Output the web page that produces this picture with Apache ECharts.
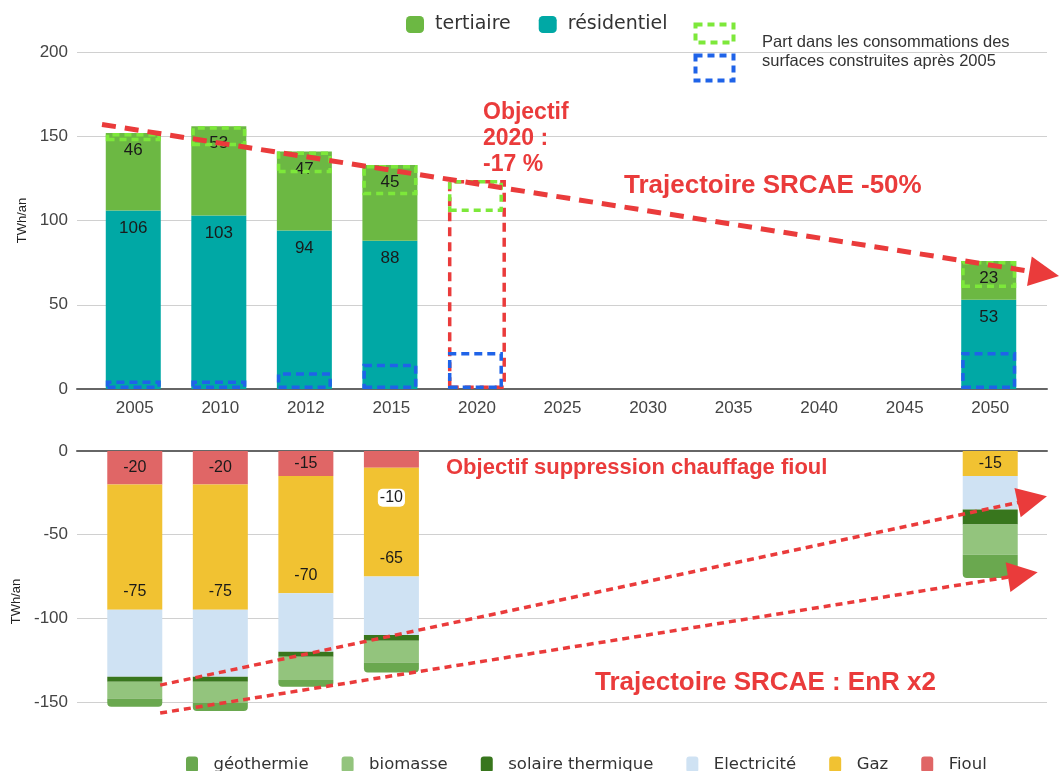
<!DOCTYPE html>
<html>
<head>
<meta charset="utf-8">
<script src="https://cdn.jsdelivr.net/npm/echarts@6/dist/echarts.min.js"></script>
<style>
  html, body { margin: 0; padding: 0; background: #fff; }
  #chart { width: 1059px; height: 771px; }
</style>
</head>
<body>
<div id="chart"></div>
<script>
// categories
const annees = ['2005', '2010', '2012', '2015', '2020', '2025', '2030', '2035', '2040', '2045', '2050'];

// consommation (TWh/an)
const residentiel = [106, 103, 94, 88, null, null, null, null, null, null, 53];
const tertiaire = [46, 53, 47, 45, null, null, null, null, null, null, 23];
const objectif2020 = [null, null, null, null, 124, null, null, null, null, null, null];
// part des surfaces construites apres 2005
const partTertiaireNeuf = [5, 12, 13, 18, 19, null, null, null, null, null, 16];
const partResidentielNeuf = [5, 5, 10, 15, 22, null, null, null, null, null, 22];

// mix energetique (TWh/an)
const fioul = [-20, -20, -15, -10, null, null, null, null, null, null, null];
const gaz = [-75, -75, -70, -65, null, null, null, null, null, null, -15];
const electricite = [-40, -40, -35, -35, null, null, null, null, null, null, -20];
const solaire = [-3, -3, -3, -3.5, null, null, null, null, null, null, -9];
const biomasse = [-10, -12.5, -14, -13, null, null, null, null, null, null, -18];
const geothermie = [-5, -5, -4, -6, null, null, null, null, null, null, -14];

// trajectoires [index annee, valeur]
const trajectoireConso = [[-0.38, 157], [10.64, 68.5]];
const trajectoireEnr1 = [[0.30, -140], [10.5, -29]];
const trajectoireEnr2 = [[0.30, -156.7], [10.39, -74]];

const chart = echarts.init(document.getElementById('chart'));

const RED = '#ea3b3b';
const FONT = 'Liberation Sans, Arial, sans-serif';

const totalConso = annees.map((a, i) =>
  objectif2020[i] != null ? objectif2020[i] :
  (residentiel[i] != null ? residentiel[i] + tertiaire[i] : null));
const baseTertNeuf = totalConso.map((t, i) =>
  t != null && partTertiaireNeuf[i] != null ? t - partTertiaireNeuf[i] : null);

const barLabel = {
  show: true, position: 'insideTop', distance: 9,
  fontSize: 17, color: '#1a1a1a', fontFamily: FONT
};
const bottomLabel = { show: true, fontSize: 16, color: '#1a1a1a', fontFamily: FONT };

function box(color, dash) {
  return { color: 'rgba(0,0,0,0)', borderColor: color, borderWidth: 3.5, borderType: dash };
}

const fioulData = fioul.map((v, i) => i === 3 ? {
  value: v,
  label: { position: 'bottom', distance: 21, backgroundColor: '#fff', borderRadius: 5, padding: [1, 2] }
} : v);
const gazData = gaz.map((v, i) => i === 10 ? { value: v, label: { position: 'inside' } } : v);

function trend(xi, yi, pts, width, dash) {
  return {
    type: 'lines', coordinateSystem: 'cartesian2d', xAxisIndex: xi, yAxisIndex: yi,
    z: 20, clip: false, silent: true,
    symbol: ['none', 'triangle'], symbolSize: 30,
    lineStyle: { color: RED, width: width, type: dash, opacity: 1 },
    itemStyle: { color: RED },
    data: [{ coords: pts }]
  };
}

// wide grids (77..1047) carry the gridlines, zero lines and trajectories
const XMIN = -0.6725, XMAX = 10.6725;

const option = {
  animation: false,
  backgroundColor: '#fff',
  grid: [
    { left: 92, right: 26, top: 52, height: 337, containLabel: false, outerBoundsMode: 'none' },
    { left: 92, right: 26, top: 451, height: 301, containLabel: false, outerBoundsMode: 'none' },
    { left: 77, right: 12, top: 52, height: 337, containLabel: false, outerBoundsMode: 'none' },
    { left: 77, right: 12, top: 451, height: 301, containLabel: false, outerBoundsMode: 'none' }
  ],
  legend: [
    {
      data: ['tertiaire', 'résidentiel'], left: 401, top: 10,
      icon: 'roundRect', itemWidth: 18, itemHeight: 17, itemGap: 28,
      formatter: ' {name}',
      textStyle: { fontSize: 19, color: '#333', fontFamily: 'DejaVu Sans' },
      selectedMode: false
    },
    {
      data: ['géothermie', 'biomasse', 'solaire thermique', 'Electricité', 'Gaz', 'Fioul'],
      left: 181, top: 751,
      icon: 'roundRect', itemWidth: 12, itemHeight: 16, itemGap: 33,
      formatter: '  {name}',
      textStyle: { fontSize: 16.5, color: '#333', fontFamily: 'DejaVu Sans' },
      selectedMode: false
    }
  ],
  xAxis: [
    {
      type: 'category', data: annees, gridIndex: 0,
      axisLine: { show: false }, axisTick: { show: false },
      axisLabel: { fontSize: 17, color: '#444', margin: 11, fontFamily: FONT }
    },
    { type: 'category', data: annees, gridIndex: 1, show: false },
    {
      type: 'value', gridIndex: 2, min: XMIN, max: XMAX,
      axisLine: { lineStyle: { color: '#666', width: 2 } },
      axisTick: { show: false }, axisLabel: { show: false }, splitLine: { show: false }
    },
    {
      type: 'value', gridIndex: 3, min: XMIN, max: XMAX, position: 'top',
      axisLine: { lineStyle: { color: '#666', width: 2 } },
      axisTick: { show: false }, axisLabel: { show: false }, splitLine: { show: false }
    }
  ],
  yAxis: [
    {
      type: 'value', gridIndex: 0, min: 0, max: 200, interval: 50,
      name: 'TWh/an', nameLocation: 'middle', nameGap: 62,
      nameTextStyle: { fontSize: 13, color: '#222', fontFamily: FONT },
      axisLine: { show: false }, axisTick: { show: false },
      axisLabel: { fontSize: 17, color: '#444', margin: 24, fontFamily: FONT },
      splitLine: { show: false }
    },
    {
      type: 'value', gridIndex: 1, min: -180, max: 0, minInterval: 50, maxInterval: 50,
      name: 'TWh/an', nameLocation: 'middle', nameGap: 62,
      nameTextStyle: { fontSize: 13, color: '#222', fontFamily: FONT },
      axisLine: { show: false }, axisTick: { show: false },
      axisLabel: { fontSize: 17, color: '#444', margin: 24, fontFamily: FONT, showMinLabel: false },
      splitLine: { show: false }
    },
    {
      type: 'value', gridIndex: 2, min: 0, max: 200, interval: 50,
      axisLine: { show: false, onZero: false }, axisTick: { show: false }, axisLabel: { show: false },
      splitLine: { lineStyle: { color: '#d0d0d0' } }
    },
    {
      type: 'value', gridIndex: 3, min: -180, max: 0, minInterval: 50, maxInterval: 50,
      axisLine: { show: false, onZero: false }, axisTick: { show: false }, axisLabel: { show: false },
      splitLine: { showMinLine: false, lineStyle: { color: '#d0d0d0' } }
    }
  ],
  series: [
    {
      name: 'résidentiel', type: 'bar', stack: 'conso', barWidth: 55, barGap: '-100%',
      xAxisIndex: 0, yAxisIndex: 0, data: residentiel,
      itemStyle: { color: '#00a8a5' }, label: barLabel
    },
    {
      name: 'tertiaire', type: 'bar', stack: 'conso', barWidth: 55, barGap: '-100%',
      xAxisIndex: 0, yAxisIndex: 0, data: tertiaire,
      itemStyle: { color: '#6cb843' }, label: barLabel
    },
    {
      name: 'base', type: 'bar', stack: 'neufT', barWidth: 55, barGap: '-100%', silent: true,
      xAxisIndex: 0, yAxisIndex: 0, data: baseTertNeuf,
      itemStyle: { color: 'rgba(0,0,0,0)' }
    },
    {
      name: 'neufT', type: 'bar', stack: 'neufT', barWidth: 55, barGap: '-100%', silent: true, z: 5,
      xAxisIndex: 0, yAxisIndex: 0, data: partTertiaireNeuf,
      itemStyle: box('#7de83a', [7, 5])
    },
    {
      name: 'neufR', type: 'bar', stack: 'neufR', barWidth: 55, barGap: '-100%', silent: true, z: 5,
      xAxisIndex: 0, yAxisIndex: 0, data: partResidentielNeuf,
      itemStyle: box('#1f63e8', [8, 5])
    },
    {
      name: 'objectif', type: 'bar', stack: 'obj', barWidth: 58, barGap: '-100%', silent: true, z: 4,
      xAxisIndex: 0, yAxisIndex: 0, data: objectif2020,
      itemStyle: box(RED, [9, 6])
    },
    {
      name: 'Fioul', type: 'bar', stack: 'mix', barWidth: 55, xAxisIndex: 1, yAxisIndex: 1,
      data: fioulData, itemStyle: { color: '#e06666' },
      label: Object.assign({ position: 'inside' }, bottomLabel)
    },
    {
      name: 'Gaz', type: 'bar', stack: 'mix', barWidth: 55, xAxisIndex: 1, yAxisIndex: 1,
      data: gazData, itemStyle: { color: '#f1c232' },
      label: Object.assign({ position: 'insideBottom', distance: 10 }, bottomLabel)
    },
    {
      name: 'Electricité', type: 'bar', stack: 'mix', barWidth: 55, xAxisIndex: 1, yAxisIndex: 1,
      data: electricite, itemStyle: { color: '#cfe2f3' }
    },
    {
      name: 'solaire thermique', type: 'bar', stack: 'mix', barWidth: 55, xAxisIndex: 1, yAxisIndex: 1,
      data: solaire, itemStyle: { color: '#38761d' }
    },
    {
      name: 'biomasse', type: 'bar', stack: 'mix', barWidth: 55, xAxisIndex: 1, yAxisIndex: 1,
      data: biomasse, itemStyle: { color: '#93c47d' }
    },
    {
      name: 'géothermie', type: 'bar', stack: 'mix', barWidth: 55, xAxisIndex: 1, yAxisIndex: 1,
      data: geothermie, itemStyle: { color: '#6aa84f', borderRadius: [0, 0, 4, 4] }
    },
    trend(2, 2, trajectoireConso, 5, [14, 9]),
    trend(3, 3, trajectoireEnr1, 3.5, [7, 5]),
    trend(3, 3, trajectoireEnr2, 3.5, [7, 5])
  ],
  graphic: [
    { type: 'rect', left: 693, top: 22, shape: { width: 38, height: 18 }, z: 10,
      style: { fill: 'none', stroke: '#7de83a', lineWidth: 4, lineDash: [7, 5] } },
    { type: 'rect', left: 693, top: 53, shape: { width: 38, height: 25 }, z: 10,
      style: { fill: 'none', stroke: '#1f63e8', lineWidth: 4, lineDash: [7, 5] } },
    { type: 'text', left: 762, top: 33, z: 10,
      style: { text: 'Part dans les consommations des\nsurfaces construites après 2005',
        font: '16.5px ' + FONT, fill: '#333', lineHeight: 19 } },
    { type: 'text', left: 483, top: 100, z: 10,
      style: { text: 'Objectif\n2020 :\n-17 %', font: 'bold 23px ' + FONT, fill: RED, lineHeight: 26 } },
    { type: 'text', left: 624, top: 173, z: 10,
      style: { text: 'Trajectoire SRCAE -50%', font: 'bold 26px ' + FONT, fill: RED } },
    { type: 'text', left: 446, top: 457, z: 10,
      style: { text: 'Objectif suppression chauffage fioul', font: 'bold 22px ' + FONT, fill: RED } },
    { type: 'text', left: 595, top: 670, z: 10,
      style: { text: 'Trajectoire SRCAE : EnR x2', font: 'bold 26px ' + FONT, fill: RED } }
  ]
};

chart.setOption(option);
</script>
</body>
</html>
